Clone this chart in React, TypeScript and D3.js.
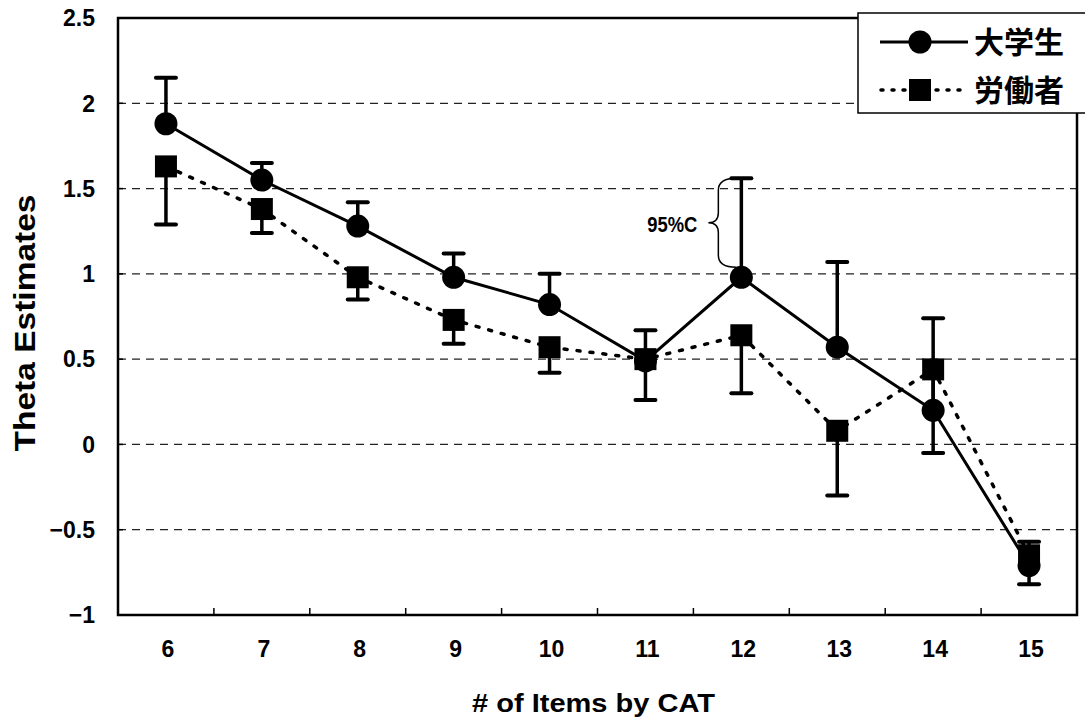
import React from "react";
import * as d3 from "d3";

const categories = ["6", "7", "8", "9", "10", "11", "12", "13", "14", "15"];
const studentValues = [1.88, 1.55, 1.28, 0.98, 0.82, 0.49, 0.98, 0.57, 0.2, -0.71];
const studentUpper = [2.15, 1.65, 1.42, 1.12, 1.0, 0.67, 1.56, 1.07, 0.74, -0.57];
const workerValues = [1.63, 1.38, 0.98, 0.73, 0.57, 0.5, 0.64, 0.08, 0.44, -0.65];
const workerLower = [1.29, 1.24, 0.85, 0.59, 0.42, 0.26, 0.3, -0.3, -0.05, -0.82];
const yTicks = [2.5, 2, 1.5, 1, 0.5, 0, -0.5, -1];
const gridValues = [2, 1.5, 1, 0.5, 0, -0.5];
const seriesNames = ["大学生", "労働者"];
const annotationText = "95%C";
const annotationCategory = "12";

const W = 1085;
const H = 717;
const M = { left: 118, right: 1077, top: 18, bottom: 615 };
const FONT = "'Liberation Sans', Arial, sans-serif";
const JFONT = "'Noto Sans CJK JP', 'Liberation Sans', sans-serif";

export default function App() {
  const x = d3.scaleBand<string>().domain(categories).range([M.left, M.right]);
  const y = d3.scaleLinear().domain([-1, 2.5]).range([M.bottom, M.top]);
  const cx = (c: string) => (x(c) as number) + x.bandwidth() / 2;

  const line = d3
    .line<number>()
    .x((_, i) => cx(categories[i]))
    .y((d) => y(d));

  const fmt = (v: number) => (v < 0 ? "\u2212" + String(-v) : String(v));

  const ai = categories.indexOf(annotationCategory);
  const bTop = y(studentUpper[ai]);
  const bBot = y(studentValues[ai]) - 10;
  const bMid = (bTop + bBot) / 2;
  const bx = cx(annotationCategory) - 23;
  const bEnd = cx(annotationCategory) - 5;

  const capW = 10;

  return (
    <svg
      width={W}
      height={H}
      style={{ position: "absolute", left: 0, top: 0, background: "#fff" }}
    >
      <rect x={0} y={0} width={W} height={H} fill="#fff" />
      {/* grid */}
      {gridValues.map((g) => (
        <line
          key={g}
          x1={M.left}
          x2={M.right}
          y1={y(g)}
          y2={y(g)}
          stroke="#222"
          strokeWidth={1.2}
          strokeDasharray="8 6"
        />
      ))}
      {/* frame */}
      <rect
        x={M.left}
        y={M.top}
        width={M.right - M.left}
        height={M.bottom - M.top}
        fill="none"
        stroke="#000"
        strokeWidth={2.5}
      />
      {/* y ticks */}
      {yTicks.map((t) => (
        <g key={t}>
          <line x1={M.left} x2={M.left + 5} y1={y(t)} y2={y(t)} stroke="#000" strokeWidth={1.5} />
          <text
            x={95}
            y={y(t)}
            dy="0.36em"
            textAnchor="end"
            fontFamily={FONT}
            fontWeight="bold"
            fontSize={23}
          >
            {fmt(t)}
          </text>
        </g>
      ))}
      {/* x ticks */}
      {categories.slice(1).map((c) => (
        <line
          key={c}
          x1={x(c) as number}
          x2={x(c) as number}
          y1={M.bottom}
          y2={M.bottom - 7}
          stroke="#000"
          strokeWidth={1.5}
        />
      ))}
      {categories.map((c) => (
        <text
          key={c}
          x={cx(c) + 2}
          y={657}
          textAnchor="middle"
          fontFamily={FONT}
          fontWeight="bold"
          fontSize={23}
        >
          {c}
        </text>
      ))}
      {/* axis titles */}
      <text
        x={472}
        y={712}
        fontFamily={FONT}
        fontWeight="bold"
        fontSize={26}
        textLength={243}
        lengthAdjust="spacingAndGlyphs"
      >
        # of Items by CAT
      </text>
      <text
        transform={`translate(35, 323) rotate(-90)`}
        textAnchor="middle"
        fontFamily={FONT}
        fontWeight="bold"
        fontSize={30}
        textLength={257}
        lengthAdjust="spacingAndGlyphs"
      >
        Theta Estimates
      </text>

      {/* worker series (dotted) */}
      <path
        d={line(workerValues) || ""}
        fill="none"
        stroke="#000"
        strokeWidth={3.5}
        strokeDasharray="3 10"
        strokeLinecap="round"
      />
      {/* student series (solid) */}
      <path d={line(studentValues) || ""} fill="none" stroke="#000" strokeWidth={3} />

      {/* error bars */}
      {categories.map((c, i) => (
        <g key={"eb" + c}>
          <line x1={cx(c)} x2={cx(c)} y1={y(studentValues[i])} y2={y(studentUpper[i])} stroke="#000" strokeWidth={3.5} />
          <line x1={cx(c) - capW} x2={cx(c) + capW} y1={y(studentUpper[i])} y2={y(studentUpper[i])} stroke="#000" strokeWidth={4} strokeLinecap="round" />
          <line x1={cx(c)} x2={cx(c)} y1={y(workerValues[i])} y2={y(workerLower[i])} stroke="#000" strokeWidth={3.5} />
          <line x1={cx(c) - capW} x2={cx(c) + capW} y1={y(workerLower[i])} y2={y(workerLower[i])} stroke="#000" strokeWidth={4} strokeLinecap="round" />
        </g>
      ))}
      {/* markers */}
      {categories.map((c, i) => (
        <rect key={"sq" + c} x={cx(c) - 11} y={y(workerValues[i]) - 11} width={22} height={22} fill="#000" />
      ))}
      {categories.map((c, i) => (
        <circle key={"ci" + c} cx={cx(c)} cy={y(studentValues[i])} r={11.5} fill="#000" />
      ))}

      {/* 95%C annotation */}
      <path
        d={`M ${bEnd} ${bTop} Q ${bx} ${bTop} ${bx} ${bTop + 12} L ${bx} ${bMid - 10} Q ${bx} ${bMid} ${bx - 10} ${bMid} Q ${bx} ${bMid} ${bx} ${bMid + 10} L ${bx} ${bBot - 12} Q ${bx} ${bBot} ${bEnd} ${bBot}`}
        fill="none"
        stroke="#000"
        strokeWidth={1.5}
      />
      <text
        x={bx - 21}
        y={bMid + 1}
        dy="0.36em"
        textAnchor="end"
        fontFamily={FONT}
        fontWeight="bold"
        fontSize={22}
        textLength={50}
        lengthAdjust="spacingAndGlyphs"
      >
        {annotationText}
      </text>

      {/* legend */}
      <rect x={858} y={13} width={240} height={100} fill="#fff" stroke="#000" strokeWidth={1.5} />
      <line x1={880} x2={968} y1={42} y2={42} stroke="#000" strokeWidth={3} />
      <circle cx={920} cy={42} r={11.5} fill="#000" />
      <text x={974} y={42} dy="0.36em" fontFamily={JFONT} fontWeight="bold" fontSize={30}>
        {seriesNames[0]}
      </text>
      <line
        x1={881}
        x2={968}
        y1={90}
        y2={90}
        stroke="#000"
        strokeWidth={3.5}
        strokeDasharray="2 9"
        strokeLinecap="round"
      />
      <rect x={909} y={79} width={22} height={22} fill="#000" />
      <text x={974} y={90} dy="0.36em" fontFamily={JFONT} fontWeight="bold" fontSize={30}>
        {seriesNames[1]}
      </text>
    </svg>
  );
}
